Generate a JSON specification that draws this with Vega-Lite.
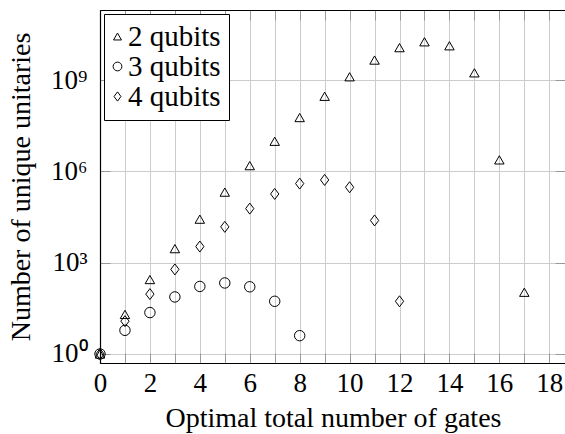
{
  "$schema": "https://vega.github.io/schema/vega-lite/v6.json",
  "width": 465,
  "height": 353,
  "autosize": "none",
  "padding": {"left": 100, "top": 10, "right": 0, "bottom": 71},
  "background": "white",
  "config": {
    "font": "Liberation Serif",
    "view": {"stroke": null},
    "axis": {
      "domain": true,
      "domainColor": "black",
      "domainWidth": 1.2,
      "gridColor": "#cccccc",
      "gridWidth": 1,
      "tickColor": "#999999",
      "tickWidth": 1,
      "tickSize": -10,
      "labelFont": "Liberation Serif",
      "labelFontSize": 27,
      "labelColor": "black",
      "titleFont": "Liberation Serif",
      "titleFontSize": 28,
      "titleFontWeight": "normal",
      "titleColor": "black"
    },
    "legend": {
      "orient": "top-left",
      "offset": 4,
      "strokeColor": "black",
      "strokeWidth": 1,
      "fillColor": "white",
      "padding": 8,
      "labelFont": "Liberation Serif",
      "labelFontSize": 29,
      "labelColor": "black",
      "symbolSize": 85,
      "symbolStrokeWidth": 1,
      "symbolStrokeColor": "black",
      "symbolFillColor": "white",
      "symbolOffset": -9,
      "rowPadding": 0,
      "labelOffset": -4
    }
  },
  "data": {
    "values": [
      {"gates": 0, "count": 1, "series": "2 qubits"},
      {"gates": 1, "count": 20, "series": "2 qubits"},
      {"gates": 2, "count": 280, "series": "2 qubits"},
      {"gates": 3, "count": 2900, "series": "2 qubits"},
      {"gates": 4, "count": 27000, "series": "2 qubits"},
      {"gates": 5, "count": 209000, "series": "2 qubits"},
      {"gates": 6, "count": 1550000, "series": "2 qubits"},
      {"gates": 7, "count": 9800000, "series": "2 qubits"},
      {"gates": 8, "count": 59000000, "series": "2 qubits"},
      {"gates": 9, "count": 295000000, "series": "2 qubits"},
      {"gates": 10, "count": 1290000000, "series": "2 qubits"},
      {"gates": 11, "count": 4570000000, "series": "2 qubits"},
      {"gates": 12, "count": 11700000000, "series": "2 qubits"},
      {"gates": 13, "count": 18200000000, "series": "2 qubits"},
      {"gates": 14, "count": 13500000000, "series": "2 qubits"},
      {"gates": 15, "count": 1740000000, "series": "2 qubits"},
      {"gates": 16, "count": 2400000, "series": "2 qubits"},
      {"gates": 17, "count": 107, "series": "2 qubits"},
      {"gates": 0, "count": 1, "series": "3 qubits"},
      {"gates": 1, "count": 6, "series": "3 qubits"},
      {"gates": 2, "count": 23, "series": "3 qubits"},
      {"gates": 3, "count": 75, "series": "3 qubits"},
      {"gates": 4, "count": 166, "series": "3 qubits"},
      {"gates": 5, "count": 216, "series": "3 qubits"},
      {"gates": 6, "count": 162, "series": "3 qubits"},
      {"gates": 7, "count": 54, "series": "3 qubits"},
      {"gates": 8, "count": 4, "series": "3 qubits"},
      {"gates": 0, "count": 1, "series": "4 qubits"},
      {"gates": 1, "count": 12, "series": "4 qubits"},
      {"gates": 2, "count": 93, "series": "4 qubits"},
      {"gates": 3, "count": 603, "series": "4 qubits"},
      {"gates": 4, "count": 3400, "series": "4 qubits"},
      {"gates": 5, "count": 15100, "series": "4 qubits"},
      {"gates": 6, "count": 60000, "series": "4 qubits"},
      {"gates": 7, "count": 182000, "series": "4 qubits"},
      {"gates": 8, "count": 398000, "series": "4 qubits"},
      {"gates": 9, "count": 525000, "series": "4 qubits"},
      {"gates": 10, "count": 302000, "series": "4 qubits"},
      {"gates": 11, "count": 24500, "series": "4 qubits"},
      {"gates": 12, "count": 54, "series": "4 qubits"}
    ]
  },
  "layer": [
    {
      "mark": {"type": "point", "filled": false, "color": "black", "strokeWidth": 1, "opacity": 1, "size": 121},
      "encoding": {
        "x": {
          "field": "gates", "type": "quantitative",
          "scale": {"domain": [0, 18.63], "nice": false, "zero": false},
          "axis": {
            "orient": "bottom",
            "values": [0,1,2,3,4,5,6,7,8,9,10,11,12,13,14,15,16,17,18],
            "labelExpr": "datum.value % 2 == 0 ? datum.label : ''",
            "labelPadding": 17,
            "labelFlush": false,
            "labelOverlap": false,
            "grid": true,
            "gridColor": {"condition": {"test": "datum.value == 0", "value": "black"}, "value": "#cccccc"},
            "tickColor": {"condition": {"test": "datum.value == 0", "value": "black"}, "value": "#999999"},
            "title": "Optimal total number of gates",
            "titleX": 233,
            "titleY": 63,
            "titleBaseline": "alphabetic"
          }
        },
        "y": {
          "field": "count", "type": "quantitative",
          "scale": {"type": "log", "domain": [0.506, 202000000000], "nice": false},
          "axis": {
            "orient": "left",
            "values": [1, 1000, 1000000, 1000000000],
            "labelExpr": "datum.value == 1 ? '10⁰' : datum.value == 1000 ? '10³' : datum.value == 1000000 ? '10⁶' : '10⁹'",
            "labelPadding": 23,
            "labelBaseline": "middle",
            "grid": true,
            "title": "Number of unique unitaries",
            "titleX": -71,
            "titleY": 176.5,
            "titleBaseline": "alphabetic",
            "titleAlign": "center"
          }
        },
        "shape": {
          "field": "series", "type": "nominal",
          "scale": {"domain": ["2 qubits", "3 qubits", "4 qubits"], "range": ["M0,-0.75L0.86,0.75L-0.86,0.75Z", "M-0.95,0A0.95,0.95 0 1,0 0.95,0A0.95,0.95 0 1,0 -0.95,0Z", "M0,-1L0.75,0L0,1L-0.75,0Z"]},
          "legend": {"title": null}
        }
      }
    },
    {
      "mark": {"type": "point", "opacity": 0},
      "encoding": {
        "x": {
          "field": "gates", "type": "quantitative",
          "scale": {"domain": [0, 18.63], "nice": false, "zero": false},
          "axis": {
            "orient": "top",
            "values": [0,1,2,3,4,5,6,7,8,9,10,11,12,13,14,15,16,17,18],
            "labels": false, "grid": false, "title": null,
            "tickColor": {"condition": {"test": "datum.value == 0", "value": "black"}, "value": "#999999"}
          }
        },
        "y": {
          "field": "count", "type": "quantitative",
          "scale": {"type": "log", "domain": [0.506, 202000000000], "nice": false},
          "axis": {
            "orient": "right",
            "values": [1, 1000, 1000000, 1000000000],
            "labels": false, "grid": false, "title": null, "domain": false
          }
        }
      }
    }
  ],
  "resolve": {"axis": {"x": "independent", "y": "independent"}}
}
